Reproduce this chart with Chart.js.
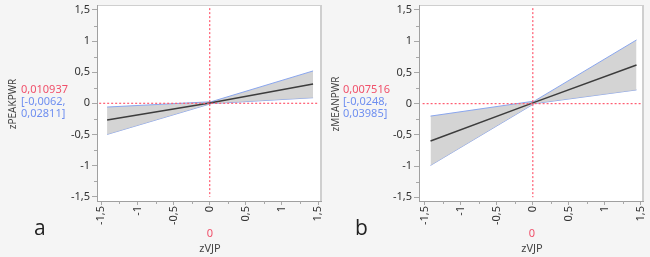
<!DOCTYPE html>
<html>
<head>
<meta charset="utf-8">
<script src="https://cdn.jsdelivr.net/npm/chart.js@4"></script>
<style>
body{margin:0;background:#f5f5f5;width:650px;height:257px;position:relative;overflow:hidden;font-family:"Noto Sans",sans-serif}
canvas{position:absolute;top:0}
.t{position:absolute;font-size:11px;line-height:12px;white-space:nowrap}
.ytitle{position:absolute;font-size:10px;color:#444;transform:translate(-50%,-50%) rotate(-90deg);white-space:nowrap}
.xt{position:absolute;font-size:11px;color:#444;transform:translateX(-50%)}
.lbl{position:absolute;font-size:21px;color:#222;font-family:"Open Sans",sans-serif}
.red{color:#f0506a}
.blue{color:#6f8ff0}
</style>
</head>
<body>
<div style="position:absolute;left:0;top:0;width:325px;height:257px"><canvas id="ca"></canvas></div>
<div style="position:absolute;left:325px;top:0;width:325px;height:257px"><canvas id="cb"></canvas></div>

<div class="ytitle" style="left:12px;top:104px">zPEAKPWR</div>
<div class="t red" style="left:21px;top:83px">0,010937</div>
<div class="t blue" style="left:21px;top:95px">[-0,0062,<br>0,02811]</div>
<div class="xt red" style="left:210px;top:225px">0</div>
<div class="xt" style="left:210px;top:240px">zVJP</div>
<div class="lbl" style="left:34px;top:213px">a</div>

<div class="ytitle" style="left:335px;top:104px">zMEANPWR</div>
<div class="t red" style="left:343px;top:83px">0,007516</div>
<div class="t blue" style="left:343px;top:95px">[-0,0248,<br>0,03985]</div>
<div class="xt red" style="left:532px;top:225px">0</div>
<div class="xt" style="left:532px;top:240px">zVJP</div>
<div class="lbl" style="left:355px;top:213px">b</div>

<script>
// values
var tickVals = [-1.5, -1, -0.5, 0, 0.5, 1, 1.5];

var xA = [-1.42, 0.02, 1.43];
var fitA = [-0.27, 0.01, 0.31];
var upA = [-0.06, 0.025, 0.52];
var loA = [-0.50, -0.005, 0.09];

var xB = [-1.42, 0.02, 1.44];
var fitB = [-0.60, 0.02, 0.62];
var upB = [-0.20, 0.04, 1.02];
var loB = [-0.99, 0.0, 0.22];

function pts(xs, ys){
	var out = [];
	for (var i in xs) out.push({x: xs[i], y: ys[i]});
	return out;
}
function fmt(v){ return String(v).replace('.', ','); }

var framePlugin = {
	id: 'frame',
	beforeDraw: function(chart){
		var a = chart.chartArea, c = chart.ctx;
		c.save();
		c.fillStyle = '#ffffff';
		c.fillRect(a.left, a.top, a.right - a.left, a.bottom - a.top);
		c.strokeStyle = '#cfcfcf';
		c.lineWidth = 1;
		c.beginPath();
		c.moveTo(a.left, a.top + 0.5);
		c.lineTo(a.right, a.top + 0.5);
		c.stroke();
		c.lineWidth = 2;
		c.beginPath();
		c.moveTo(a.right, a.top);
		c.lineTo(a.right, a.bottom);
		c.stroke();
		c.restore();
	},
	afterDraw: function(chart){
		// minor ticks between labelled ones
		var c = chart.ctx, xs = chart.scales.x, ys = chart.scales.y, a = chart.chartArea;
		c.save();
		c.strokeStyle = '#a8a8a8';
		c.lineWidth = 1;
		c.beginPath();
		for (var v = -1.25; v < 1.5; v += 0.5) {
			var px = Math.round(xs.getPixelForValue(v)) + 0.5;
			c.moveTo(px, a.bottom); c.lineTo(px, a.bottom + 3);
			var py = Math.round(ys.getPixelForValue(v)) + 0.5;
			c.moveTo(a.left, py); c.lineTo(a.left - 3, py);
		}
		c.stroke();
		c.restore();
	}
};

function makeChart(id, xs, fit, up, lo, xmin, xmax, ymin, ymax, yw, padR){
	var red = '#ff5a70';
	return new Chart(document.getElementById(id), {
		type: 'scatter',
		data: {
			datasets: [
			{
				data: pts(xs, up), showLine: true, pointRadius: 0,
				borderColor: '#8aa6ee', borderWidth: 1,
				backgroundColor: 'rgba(205,205,205,0.85)', fill: '+1', order: 2
			},
			{
				data: pts(xs, lo), showLine: true, pointRadius: 0,
				borderColor: '#8aa6ee', borderWidth: 1, fill: false, order: 2
			},
			{
				data: pts(xs, fit), showLine: true, pointRadius: 0,
				borderColor: '#3c3c3c', borderWidth: 1.5, fill: false, order: 1
			},
			{
				data: [{x: 0, y: 1.53}, {x: 0, y: -1.5}], showLine: true, pointRadius: 0,
				borderColor: red, borderWidth: 1.2, borderDash: [2, 2], fill: false, order: 0
			},
			{
				data: [{x: -1.53, y: 0}, {x: 1.5, y: 0}], showLine: true, pointRadius: 0,
				borderColor: red, borderWidth: 1.2, borderDash: [2, 2], fill: false, order: 0
			}
			]
		},
		options: {
			responsive: true,
			maintainAspectRatio: false,
			animation: false,
			layout: {padding: {left: 0, top: 5, right: padR, bottom: 0}},
			plugins: {legend: {display: false}, tooltip: {enabled: false}},
			scales: {
				x: {
					type: 'linear', min: xmin, max: xmax,
					afterBuildTicks: function(s){ s.ticks = tickVals.map(function(v){ return {value: v}; }); },
					afterFit: function(s){ s.height = 56; s.paddingLeft = 0; s.paddingRight = 0; },
					grid: {drawOnChartArea: false, tickLength: 4, color: '#a8a8a8'},
					border: {color: '#a0a0a0'},
					ticks: {
						minRotation: 90, maxRotation: 90, padding: 1, color: '#333',
						font: {family: 'Noto Sans', size: 11},
						callback: fmt
					}
				},
				y: {
					type: 'linear', min: ymin, max: ymax,
					afterBuildTicks: function(s){ s.ticks = tickVals.map(function(v){ return {value: v}; }); },
					afterFit: function(s){ s.width = yw; s.paddingTop = 0; s.paddingBottom = 0; },
					grid: {drawOnChartArea: false, tickLength: 5, color: '#a8a8a8'},
					border: {color: '#a0a0a0'},
					ticks: {
						padding: 2, color: '#333',
						font: {family: 'Noto Sans', size: 11},
						callback: fmt
					}
				}
			}
		},
		plugins: [framePlugin]
	});
}

makeChart('ca', xA, fitA, upA, loA, -1.56, 1.54, -1.57, 1.58, 97, 4);
makeChart('cb', xB, fitB, upB, loB, -1.58, 1.53, -1.56, 1.58, 94, 7);
</script>
</body>
</html>
